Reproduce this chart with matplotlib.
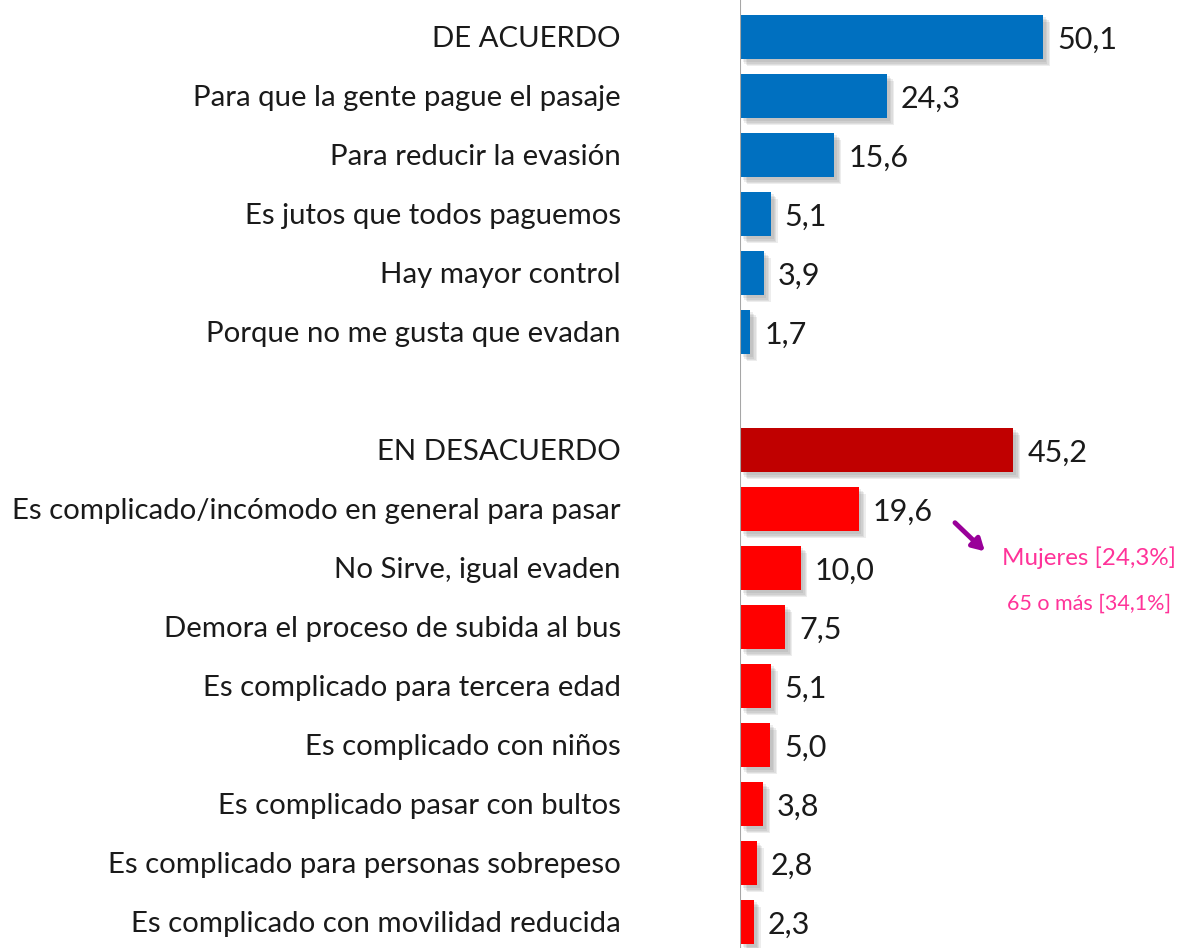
import matplotlib.pyplot as plt
import matplotlib.patheffects as pe

labels = [
    "DE ACUERDO",
    "Para que la gente pague el pasaje",
    "Para reducir la evasión",
    "Es jutos que todos paguemos",
    "Hay mayor control",
    "Porque no me gusta que evadan",
    "",
    "EN DESACUERDO",
    "Es complicado/incómodo en general para pasar",
    "No Sirve, igual evaden",
    "Demora el proceso de subida al bus",
    "Es complicado para tercera edad",
    "Es complicado con niños",
    "Es complicado pasar con bultos",
    "Es complicado para personas sobrepeso",
    "Es complicado con movilidad reducida",
]
values = [50.1, 24.3, 15.6, 5.1, 3.9, 1.7, None,
          45.2, 19.6, 10.0, 7.5, 5.1, 5.0, 3.8, 2.8, 2.3]
colors = ["#0070C0"] * 6 + [None] + ["#C00000"] + ["#FF0000"] * 8

plt.rcParams["font.family"] = ["Lato", "DejaVu Sans"]

fig = plt.figure(figsize=(11.8, 9.48), dpi=100)
ax = fig.add_axes([740 / 1180, 0, 440 / 1180, 1])

# soft drop shadow: a few stacked translucent offsets
shadow = [pe.SimplePatchShadow(offset=(d, -d), shadow_rgbFace="#707070", alpha=0.12)
          for d in (5, 4, 3, 2)] + [pe.Normal()]

for i, (lab, v, c) in enumerate(zip(labels, values, colors)):
    if v is None:
        continue
    b = ax.barh(i, v, height=0.76, color=c, edgecolor="none")
    b[0].set_path_effects(shadow)
    ax.text(v + 2.3, i + 0.05, f"{v:.1f}".replace(".", ","), va="center", ha="left",
            fontsize=22, color="#1a1a1a")
    ax.text(-19.7, i + 0.03, lab, va="center", ha="right", fontsize=21.2,
            color="#1a1a1a", clip_on=False)

ax.set_xlim(0, 440 / 6.05)
ax.set_ylim(15 + 26 / 59, -37 / 59)
ax.axis("off")
ax.axvline(0, color="#A6A6A6", linewidth=1.5)

# annotation for the "complicado/incómodo" row
ax.annotate("", xy=(40.8, 8.75), xytext=(35.2, 8.2),
            arrowprops=dict(arrowstyle="-|>,head_width=0.4,head_length=0.7",
                            color="#990099", linewidth=3.5))
ax.text(57.7, 8.82, "Mujeres [24,3%]", ha="center", va="center",
        fontsize=17.4, color="#FF3399")
ax.text(57.7, 9.6, "65 o más [34,1%]", ha="center", va="center",
        fontsize=15.5, color="#FF3399")

fig.savefig("out.png", dpi=100)
